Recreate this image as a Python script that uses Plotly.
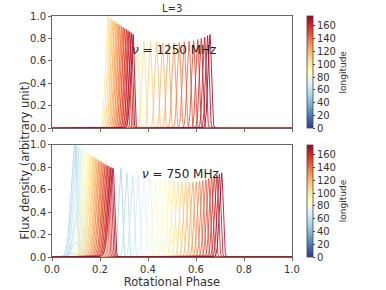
import numpy as np
import plotly.graph_objects as go
from plotly.subplots import make_subplots
import plotly.colors as pc

# ---------------- data ----------------
# 1250 MHz panel: one curve per longitude, two peaks each
lon_1250 = [100, 105, 110, 115, 120, 125, 130, 135, 140, 145, 150, 155, 160, 165, 170, 175]
peak1_pos_1250 = [0.233, 0.240, 0.247, 0.254, 0.261, 0.268, 0.275, 0.282, 0.289, 0.296,
                  0.303, 0.310, 0.317, 0.324, 0.331, 0.338]
peak1_amp_1250 = [1.00, 0.99, 0.975, 0.96, 0.95, 0.94, 0.93, 0.92, 0.91, 0.90,
                  0.89, 0.88, 0.87, 0.86, 0.85, 0.835]
peak2_pos_1250 = [0.355, 0.383, 0.410, 0.436, 0.461, 0.485, 0.508, 0.530, 0.551, 0.571,
                  0.590, 0.607, 0.622, 0.636, 0.648, 0.658]
peak2_amp_1250 = [0.79, 0.78, 0.77, 0.765, 0.76, 0.76, 0.76, 0.765, 0.77, 0.775,
                  0.78, 0.79, 0.80, 0.81, 0.825, 0.835]

# 750 MHz panel
lon_750 = [35, 40, 45, 50, 55, 60, 65, 70, 75, 80, 85, 90, 95, 100, 105, 110, 115, 120,
           125, 130, 135, 140, 145, 150, 155, 160, 165, 170, 175]
peak1_pos_750 = [0.085, 0.100, 0.110, 0.096, 0.102, 0.108, 0.115, 0.121, 0.128, 0.134,
                 0.140, 0.147, 0.153, 0.160, 0.166, 0.172, 0.179, 0.185, 0.192, 0.198,
                 0.204, 0.211, 0.217, 0.224, 0.230, 0.236, 0.243, 0.249, 0.255]
peak1_amp_750 = [0.035, 0.13, 0.43, 1.00, 0.99, 0.98, 0.97, 0.965, 0.955, 0.945,
                 0.94, 0.93, 0.92, 0.91, 0.90, 0.895, 0.885, 0.875, 0.865, 0.855,
                 0.85, 0.84, 0.83, 0.82, 0.815, 0.81, 0.80, 0.795, 0.79]
peak2_pos_750 = [0.0, 0.0, 0.0, 0.287, 0.312, 0.336, 0.360, 0.384, 0.408, 0.430,
                 0.451, 0.471, 0.490, 0.508, 0.525, 0.541, 0.557, 0.572, 0.587, 0.601,
                 0.615, 0.628, 0.641, 0.653, 0.665, 0.676, 0.687, 0.697, 0.707]
peak2_amp_750 = [0.0, 0.0, 0.0, 0.79, 0.75, 0.73, 0.72, 0.71, 0.70, 0.695,
                 0.69, 0.685, 0.68, 0.675, 0.67, 0.667, 0.665, 0.665, 0.667, 0.67,
                 0.675, 0.68, 0.69, 0.70, 0.71, 0.72, 0.73, 0.74, 0.75]

x_ticks = [0.0, 0.2, 0.4, 0.6, 0.8, 1.0]
y_ticks = [0.0, 0.2, 0.4, 0.6, 0.8, 1.0]
cb_ticks = [0, 20, 40, 60, 80, 100, 120, 140, 160]
lon_min, lon_max = 0, 175

# ---------------- helpers ----------------
phase = np.linspace(0, 1, 2001)
scale = pc.diverging.RdYlBu[::-1]


def pulse(x, c, a, sl, sr):
    if a <= 0:
        return np.zeros_like(x)
    s = np.where(x < c, sl, sr)
    return a * np.exp(-0.5 * ((x - c) / s) ** 2)


def color_for(lon, alpha=0.85):
    c = pc.sample_colorscale(scale, [(lon - lon_min) / (lon_max - lon_min)])[0]
    r, g, b = [int(float(v)) for v in c[c.index("(") + 1:-1].split(",")]
    return f"rgba({r},{g},{b},{alpha})"


FONT = "DejaVu Sans"
fig = make_subplots(rows=2, cols=1, shared_xaxes=False, vertical_spacing=0.068)

# top panel
for i, lon in enumerate(lon_1250):
    y = (pulse(phase, peak1_pos_1250[i], peak1_amp_1250[i], 0.010, 0.005)
         + pulse(phase, peak2_pos_1250[i], peak2_amp_1250[i], 0.008, 0.006))
    fig.add_trace(go.Scatter(x=phase, y=y, mode="lines", showlegend=False, hoverinfo="skip",
                             line=dict(color=color_for(lon), width=1)), row=1, col=1)

# bottom panel
for i, lon in enumerate(lon_750):
    if peak2_amp_750[i] > 0:
        y = (pulse(phase, peak1_pos_750[i], peak1_amp_750[i], 0.016, 0.006)
             + pulse(phase, peak2_pos_750[i], peak2_amp_750[i], 0.009, 0.006))
        alpha = 0.8
    else:
        y = pulse(phase, peak1_pos_750[i], peak1_amp_750[i], 0.018, 0.020)
        alpha = 0.5
    fig.add_trace(go.Scatter(x=phase, y=y, mode="lines", showlegend=False, hoverinfo="skip",
                             line=dict(color=color_for(lon, alpha), width=1)), row=2, col=1)

# colorbars (dummy traces)
for ypos in (0.534, 0.0):
    cb = dict(x=1.0625, xanchor="left", xpad=0, ypad=0,
              y=ypos, yanchor="bottom", len=0.466, lenmode="fraction", thickness=6,
              outlinewidth=0.8, outlinecolor="#444",
              tickvals=cb_ticks, ticks="outside", ticklen=2, tickcolor="#444",
              tickfont=dict(size=10, color="#333", family=FONT),
              title=dict(text="longitude", side="right",
                         font=dict(size=9, color="#333", family=FONT)))
    mk = dict(color=[lon_min], cmin=lon_min, cmax=lon_max, colorscale=scale,
              showscale=True, colorbar=cb)
    fig.add_trace(go.Scatter(x=[None], y=[None], mode="markers", showlegend=False,
                             hoverinfo="skip", marker=mk), row=1, col=1)

axis_common = dict(showline=True, linecolor="#666", linewidth=1, mirror=True,
                   ticks="outside", ticklen=3, tickcolor="#666", showgrid=False, zeroline=False,
                   automargin=False,
                   tickfont=dict(size=10, color="#333", family=FONT))

fig.update_xaxes(range=[0, 1], tickvals=x_ticks, **axis_common)
fig.update_xaxes(showticklabels=False, row=1, col=1)
fig.update_xaxes(tickformat=".1f", row=2, col=1,
                 title=dict(text="Rotational Phase", font=dict(size=11.5, color="#333", family=FONT),
                            standoff=0))
fig.update_yaxes(range=[0, 1], tickvals=y_ticks, tickformat=".1f", **axis_common)

fig.update_layout(
    width=386, height=290,
    margin=dict(l=52, r=94, t=16, b=33, autoexpand=False),
    plot_bgcolor="white", paper_bgcolor="white",
    font=dict(family=FONT, color="#333"),
    annotations=[
        dict(text="L=3", x=0.5, y=1.0, xref="paper", yref="paper", xanchor="center",
             yanchor="bottom", yshift=0, showarrow=False, font=dict(size=10, color="#333")),
        dict(text="Flux density (arbitrary unit)", x=-0.15, y=0.40, xref="paper", yref="paper",
             textangle=-90, showarrow=False, font=dict(size=11.5, color="#333")),
        dict(text="<i>ν</i> = 1250 MHz", x=0.508, y=0.70, xref="x", yref="y", showarrow=False,
             font=dict(size=12, color="#222")),
        dict(text="<i>ν</i> = 750 MHz", x=0.536, y=0.735, xref="x2", yref="y2", showarrow=False,
             font=dict(size=12, color="#222")),
    ],
)

# remove the default 8px page margin so the figure fills the window exactly
fig.write_html("out.html", config={"displayModeBar": False},
               post_script="document.body.style.margin='0';")
